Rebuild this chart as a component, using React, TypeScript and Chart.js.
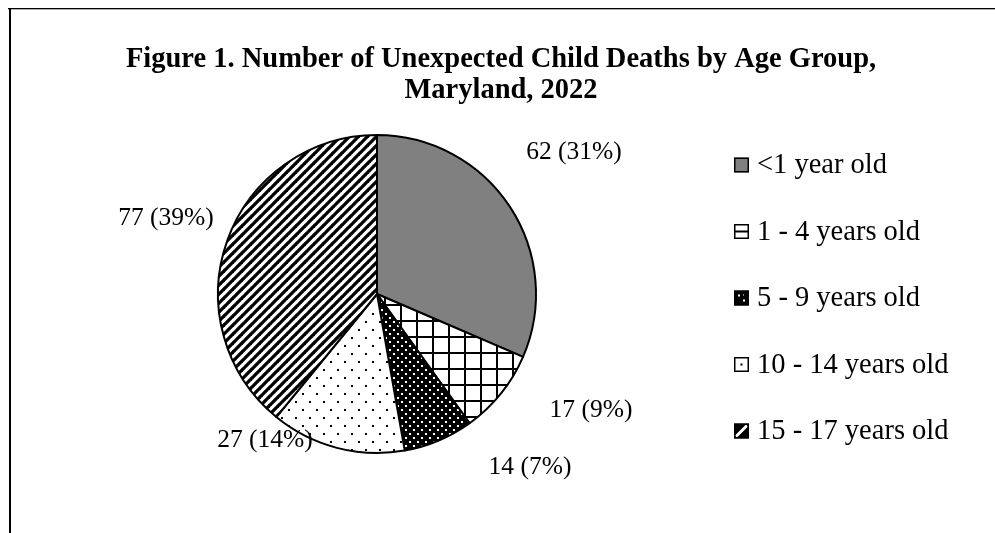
import React, { useEffect, useRef } from "react";
import { Chart, registerables } from "chart.js";

Chart.register(...registerables);

// ---- chart content ----
const TITLE_LINES = [
  "Figure 1. Number of Unexpected Child Deaths by Age Group,",
  "Maryland, 2022",
];
const AGE_GROUPS = [
  "<1 year old",
  "1 - 4 years old",
  "5 - 9 years old",
  "10 - 14 years old",
  "15 - 17 years old",
];
const DEATHS = [62, 17, 14, 27, 77];

// ---- layout & style ----
const SERIF = '"Liberation Serif", "Times New Roman", serif';
const W = 995;
const H = 533;
// value label centres, relative to the pie centre
const LABEL_OFFSETS: [number, number][] = [
  [197, -142],
  [214, 116],
  [153, 173],
  [-112, 146],
  [-211, -76],
];
const LEGEND_BOX_X = 734;
const LEGEND_TEXT_X = 757;
const LEGEND_TOP = 165;
const LEGEND_STEP = 66.5;
const LEGEND_BOX = 15;

function makeTile(w: number, h: number, paint: (c: CanvasRenderingContext2D) => void) {
  const cv = document.createElement("canvas");
  cv.width = w;
  cv.height = h;
  const c = cv.getContext("2d")!;
  paint(c);
  return cv;
}

function buildFills(ctx: CanvasRenderingContext2D): (string | CanvasPattern)[] {
  const grid = makeTile(16, 16, (c) => {
    c.fillStyle = "#fff";
    c.fillRect(0, 0, 16, 16);
    c.fillStyle = "#000";
    c.fillRect(0, 0, 16, 2);
    c.fillRect(0, 0, 2, 16);
  });
  const darkDots = makeTile(8, 8, (c) => {
    c.fillStyle = "#000";
    c.fillRect(0, 0, 8, 8);
    c.fillStyle = "#fff";
    c.fillRect(1, 1, 2, 2);
    c.fillRect(5, 5, 2, 2);
  });
  const lightDots = makeTile(14, 16, (c) => {
    c.fillStyle = "#fff";
    c.fillRect(0, 0, 14, 16);
    c.fillStyle = "#000";
    c.fillRect(1, 1, 2, 2);
    c.fillRect(8, 9, 2, 2);
  });
  const stripes = makeTile(9, 9, (c) => {
    c.fillStyle = "#fff";
    c.fillRect(0, 0, 9, 9);
    c.strokeStyle = "#000";
    c.lineWidth = 3.3;
    for (const k of [0, 9, 18]) {
      c.beginPath();
      c.moveTo(k - 10, 10);
      c.lineTo(k + 1, -1);
      c.stroke();
    }
  });
  return [
    "#808080",
    ctx.createPattern(grid, "repeat")!,
    ctx.createPattern(darkDots, "repeat")!,
    ctx.createPattern(lightDots, "repeat")!,
    ctx.createPattern(stripes, "repeat")!,
  ];
}

// small legend swatches
function drawSwatch(ctx: CanvasRenderingContext2D, i: number, x: number, y: number, s: number) {
  ctx.save();
  ctx.lineWidth = 1.5;
  ctx.strokeStyle = "#000";
  if (i === 0) {
    ctx.fillStyle = "#808080";
    ctx.fillRect(x, y, s, s);
  } else if (i === 1) {
    ctx.fillStyle = "#fff";
    ctx.fillRect(x, y, s, s);
    ctx.fillStyle = "#000";
    ctx.fillRect(x, y + s / 2 - 1, s, 2);
  } else if (i === 2) {
    ctx.fillStyle = "#000";
    ctx.fillRect(x, y, s, s);
    ctx.fillStyle = "#fff";
    ctx.fillRect(x + 4, y + 4, 2, 2);
    ctx.fillRect(x + 9, y + 9, 2, 2);
    ctx.fillRect(x + 9, y + 4, 1, 1);
  } else if (i === 3) {
    ctx.fillStyle = "#fff";
    ctx.fillRect(x, y, s, s);
    ctx.fillStyle = "#000";
    ctx.fillRect(x + s / 2 - 1, y + s / 2 - 1, 2, 2);
  } else {
    ctx.fillStyle = "#000";
    ctx.fillRect(x, y, s, s);
    ctx.strokeStyle = "#fff";
    ctx.lineWidth = 3;
    ctx.beginPath();
    ctx.moveTo(x + 2, y + s - 2);
    ctx.lineTo(x + s - 2, y + 2);
    ctx.stroke();
    ctx.strokeStyle = "#000";
    ctx.lineWidth = 1.5;
  }
  ctx.strokeRect(x + 0.75, y + 0.75, s - 1.5, s - 1.5);
  ctx.restore();
}

const decorations = {
  id: "decorations",
  beforeDraw(chart: Chart) {
    const ctx = chart.ctx;
    ctx.save();
    ctx.fillStyle = "#fff";
    ctx.fillRect(0, 0, W, H);
    // frame
    ctx.fillStyle = "#000";
    ctx.fillRect(8, 8, W - 8, 1.3);
    ctx.fillRect(9, 8, 2, H - 8);
    ctx.restore();
  },
  afterDraw(chart: Chart) {
    const ctx = chart.ctx;
    const arc = chart.getDatasetMeta(0).data[0] as any;
    const cx = arc.x;
    const cy = arc.y;
    const total = DEATHS.reduce((a, b) => a + b, 0);
    ctx.save();
    ctx.fillStyle = "#000";

    // title
    ctx.font = `bold 28.5px ${SERIF}`;
    ctx.textAlign = "center";
    ctx.textBaseline = "alphabetic";
    ctx.fillText(TITLE_LINES[0], 501, 67);
    ctx.fillText(TITLE_LINES[1], 501, 98);

    // value labels
    ctx.font = `25.5px ${SERIF}`;
    ctx.textBaseline = "middle";
    DEATHS.forEach((v, i) => {
      const pct = Math.round((v / total) * 100);
      const [dx, dy] = LABEL_OFFSETS[i];
      ctx.fillText(`${v} (${pct}%)`, cx + dx, cy + dy);
    });

    // legend
    ctx.textAlign = "left";
    ctx.font = `28.5px ${SERIF}`;
    AGE_GROUPS.forEach((name, i) => {
      const y = LEGEND_TOP + i * LEGEND_STEP;
      drawSwatch(ctx, i, LEGEND_BOX_X, y - LEGEND_BOX / 2, LEGEND_BOX);
      ctx.fillText(name, LEGEND_TEXT_X, y + 1);
    });
    ctx.restore();
  },
};

export default function App() {
  const ref = useRef<HTMLCanvasElement>(null);

  useEffect(() => {
    const canvas = ref.current!;
    const ctx = canvas.getContext("2d")!;
    const chart = new Chart(canvas, {
      type: "pie",
      data: {
        labels: AGE_GROUPS,
        datasets: [
          {
            data: DEATHS,
            backgroundColor: buildFills(ctx),
            borderColor: "#000",
            borderWidth: 2,
          },
        ],
      },
      options: {
        responsive: false,
        animation: false,
        devicePixelRatio: 1,
        layout: { padding: { left: 217, right: 458, top: 134, bottom: 79 } },
        plugins: {
          legend: { display: false },
          title: { display: false },
          tooltip: { enabled: false },
        },
      },
      plugins: [decorations],
    });
    return () => chart.destroy();
  }, []);

  return (
    <div style={{ position: "fixed", left: 0, top: 0, width: W, height: H, background: "#fff" }}>
      <canvas ref={ref} width={W} height={H} style={{ display: "block" }} />
    </div>
  );
}
